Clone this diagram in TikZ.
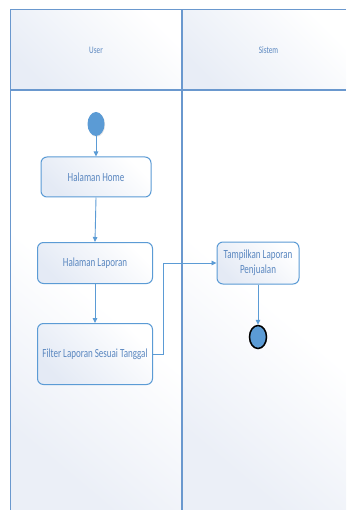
\documentclass[tikz,border=0pt]{standalone}
\usepackage{fontspec}
\setmainfont{Carlito}
\usepackage{graphicx}
\usetikzlibrary{arrows.meta,shapes.geometric,shadows}

\definecolor{laneline}{HTML}{6A98CE}
\definecolor{edge}{HTML}{5B9BD5}
\definecolor{txt}{HTML}{5A87C0}
\definecolor{wash}{HTML}{E8EDF6}
\definecolor{bodywash}{HTML}{EBEFF7}
\definecolor{boxwash}{HTML}{E4EAF5}

% text is set slightly taller than wide
\newcommand\vstr[1]{\scalebox{1}[1.38]{#1}}

\begin{document}
\begin{tikzpicture}[x=1pt,y=-1pt,
  lane/.style={draw=laneline, line width=1.3pt},
  act/.style={draw=edge, line width=1pt, rounded corners=6pt,
    top color=boxwash, bottom color=white, shading angle=135,
    text=txt, font=\fontsize{9}{11}\selectfont, inner sep=0pt, align=center},
  flow/.style={draw=edge, line width=0.9pt, -{Triangle[length=5pt,width=4.5pt]}},
  lanelabel/.style={text=txt, font=\fontsize{7.2}{9}\selectfont, inner sep=0pt},
]
\useasboundingbox (0,0) rectangle (346,510);
\fill[white] (0,0) rectangle (346,510);

% swimlane backgrounds, tinted towards the upper left
\shade[top color=wash, bottom color=white, shading angle=135] (10.5,9.5) rectangle (182,90);
\shade[top color=wash, bottom color=white, shading angle=135] (182,9.5) rectangle (346,90);
\shade[top color=bodywash, bottom color=white, middle color=white, shading angle=140] (10.5,90) rectangle (182,510);
\shade[top color=bodywash, bottom color=white, middle color=white, shading angle=140] (182,90) rectangle (346,510);

% swimlane frame
\draw[lane] (346,9.5) -- (10.5,9.5) -- (10.5,510);
\draw[lane] (182,9.5) -- (182,510);
\draw[lane] (10.5,90) -- (346,90);

\node[lanelabel] (luser) at (96,50) {\vstr{User}};
\node[lanelabel] (lsis) at (268.5,50) {\vstr{Sistem}};

% activities
\node[ellipse, fill=edge, minimum width=17pt, minimum height=24pt, inner sep=0pt,
  drop shadow={opacity=0.2, shadow xshift=0.6pt, shadow yshift=-0.8pt}] (start) at (96,124) {};
\node[act, minimum width=110pt, minimum height=40pt] (home) at (96,177) {\vstr{Halaman Home}};
\node[act, minimum width=115pt, minimum height=41pt] (lap) at (95,263) {\vstr{Halaman Laporan}};
\node[act, minimum width=115pt, minimum height=61pt] (filter) at (95,354) {\vstr{Filter Laporan Sesuai Tanggal}};
\node[act, minimum width=82pt, minimum height=42pt] (tampil) at (258,263)
  {\scalebox{1}[1.38]{\begin{tabular}{@{}c@{}}Tampilkan Laporan\\[-0.5pt]Penjualan\end{tabular}}};
\node[ellipse, draw=black, line width=1.5pt, fill=edge, minimum width=17pt, minimum height=23pt, inner sep=0pt,
  drop shadow={opacity=0.2, shadow xshift=0.6pt, shadow yshift=-0.8pt}] (end) at (258,337) {};

% control flow
\draw[flow] (start) -- (home);
\draw[flow] (home.south) -- (lap.north);
\draw[flow] (lap) -- (filter);
\draw[flow] (filter.east) -- ++(10.7,0) |- (tampil.west);
\draw[flow] (tampil) -- (end);
\end{tikzpicture}
\end{document}
